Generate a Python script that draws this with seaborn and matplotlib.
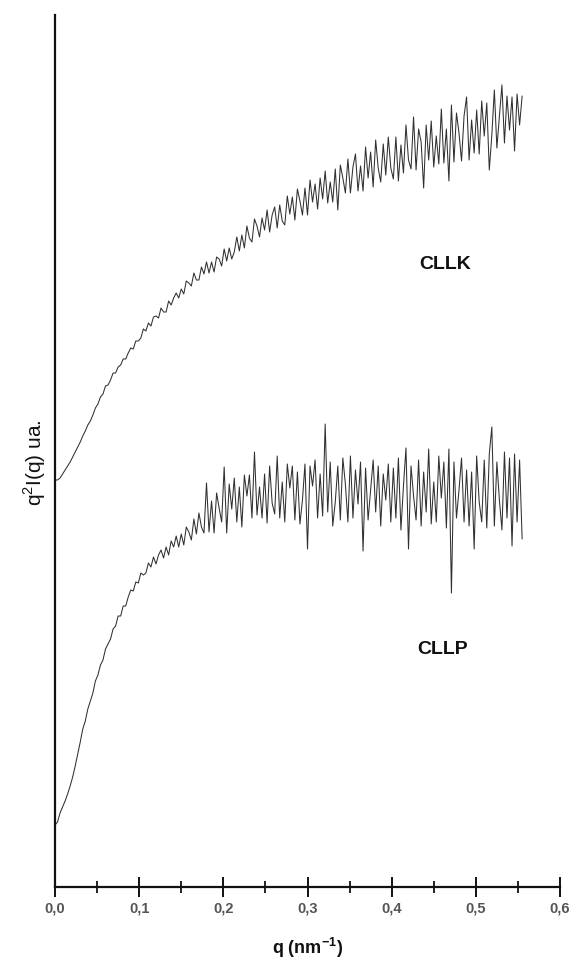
import numpy as np
import pandas as pd
import matplotlib
matplotlib.use("Agg")
import matplotlib.pyplot as plt
from matplotlib.ticker import MultipleLocator, FixedLocator, FixedFormatter
import seaborn as sns

# ---- data (arbitrary units) ----
cllk = [410, 410, 412, 416, 420, 424, 428, 433, 438, 443,
        448, 454, 459, 465, 469, 475, 482, 486, 493, 496,
        504, 505, 510, 517, 517, 523, 525, 531, 531, 537,
        542, 541, 549, 549, 552, 561, 559, 567, 564, 573,
        574, 572, 582, 578, 578, 589, 585, 592, 597, 592,
        601, 596, 609, 607, 604, 617, 610, 610, 623, 616,
        628, 617, 628, 618, 633, 631, 624, 641, 629, 642,
        631, 638, 653, 639, 655, 642, 664, 652, 648, 671,
        664, 653, 672, 660, 680, 658, 675, 683, 662, 685,
        669, 665, 694, 676, 693, 670, 701, 689, 675, 702,
        675, 710, 688, 706, 681, 712, 691, 719, 687, 708,
        688, 721, 680, 725, 712, 697, 731, 697, 723, 736,
        699, 724, 699, 743, 712, 738, 703, 750, 722, 708,
        746, 715, 753, 722, 711, 753, 709, 745, 717, 765,
        730, 721, 773, 720, 761, 748, 702, 765, 730, 769,
        723, 754, 726, 781, 727, 761, 709, 785, 728, 777,
        757, 729, 774, 793, 730, 770, 737, 780, 736, 789,
        754, 787, 720, 755, 800, 742, 773, 805, 747, 794,
        760, 793, 739, 796, 765, 794]

cllp = [65, 68, 77, 83, 89, 96, 104, 113, 124, 136,
        148, 161, 169, 181, 189, 197, 209, 215, 225, 230,
        241, 246, 251, 261, 264, 274, 274, 284, 284, 293,
        300, 299, 308, 307, 317, 315, 317, 327, 323, 333,
        326, 335, 340, 332, 343, 335, 349, 343, 354, 343,
        356, 345, 363, 358, 350, 371, 356, 377, 363, 357,
        407, 358, 389, 357, 397, 382, 368, 423, 357, 406,
        381, 412, 368, 403, 363, 415, 394, 415, 372, 438,
        375, 403, 372, 416, 367, 424, 387, 376, 434, 372,
        408, 368, 426, 402, 424, 370, 418, 366, 390, 426,
        341, 424, 404, 430, 372, 416, 374, 466, 378, 428,
        364, 388, 424, 370, 432, 406, 368, 434, 372, 420,
        386, 428, 339, 422, 370, 400, 430, 378, 424, 364,
        416, 390, 426, 368, 422, 372, 432, 360, 404, 442,
        341, 424, 394, 370, 430, 364, 418, 378, 441, 366,
        408, 368, 434, 392, 428, 362, 441, 297, 428, 372,
        400, 432, 368, 420, 364, 418, 341, 434, 388, 368,
        430, 362, 436, 463, 364, 428, 390, 360, 438, 372,
        432, 344, 436, 368, 430, 351]

q_max = 0.555
q_k = np.linspace(0.0, q_max, len(cllk))
q_p = np.linspace(0.0, q_max, len(cllp))

tick_vals = [0.0, 0.1, 0.2, 0.3, 0.4, 0.5, 0.6]
tick_labels = ["0,0", "0,1", "0,2", "0,3", "0,4", "0,5", "0,6"]
series_names = ["CLLK", "CLLP"]

df = pd.DataFrame({
    "q": np.concatenate([q_k, q_p]),
    "I": np.concatenate([cllk, cllp]),
    "sample": [series_names[0]] * len(cllk) + [series_names[1]] * len(cllp),
})

# ---- style ----
sns.set_style("white")
plt.rcParams["font.family"] = ["Liberation Sans", "DejaVu Sans"]
plt.rcParams["mathtext.fontset"] = "custom"
plt.rcParams["mathtext.rm"] = "Liberation Sans"
plt.rcParams["mathtext.bf"] = "Liberation Sans:bold"

fig = plt.figure(figsize=(5.70, 9.61), dpi=100)
ax = fig.add_axes([55 / 570, 74 / 961, 505 / 570, 872 / 961])

sns.lineplot(data=df, x="q", y="I", hue="sample", units="sample",
             estimator=None, palette={"CLLK": "#303030", "CLLP": "#303030"},
             linewidth=0.75, legend=False, ax=ax, sort=False)

ax.set_xlim(0, 0.6)
ax.set_ylim(3, 875)

for s in ["top", "right"]:
    ax.spines[s].set_visible(False)
for s in ["left", "bottom"]:
    ax.spines[s].set_linewidth(1.6)
    ax.spines[s].set_color("#111111")

ax.xaxis.set_major_locator(FixedLocator(tick_vals))
ax.xaxis.set_major_formatter(FixedFormatter(tick_labels))
ax.xaxis.set_minor_locator(MultipleLocator(0.05))
ax.tick_params(axis="x", which="major", direction="inout", length=15,
               width=1.4, color="#111111", labelsize=10.5,
               labelcolor="#555555", pad=3, bottom=True)
ax.tick_params(axis="x", which="minor", direction="inout", length=9,
               width=1.3, color="#111111", bottom=True)
ax.set_yticks([])
ax.set_xlabel("")
ax.set_ylabel("")

for lab in ax.get_xticklabels():
    lab.set_fontweight("bold")

ax.text(0.464, 625, series_names[0], fontsize=14, fontweight="bold",
        ha="center", va="center", color="#111111")
ax.text(0.461, 240, series_names[1], fontsize=14, fontweight="bold",
        ha="center", va="center", color="#111111")

fig.text(35 / 570, 1 - 463 / 961, r"q$^{\mathrm{2}}$I(q) ua.", rotation=90,
         fontsize=15, ha="center", va="center", color="#111111")
fig.text(308 / 570, 1 - 948 / 961, r"q (nm$^{\mathbf{-1}}$)", fontsize=13,
         fontweight="bold", ha="center", va="center", color="#111111")

fig.savefig("out.png", dpi=100, facecolor="white")
